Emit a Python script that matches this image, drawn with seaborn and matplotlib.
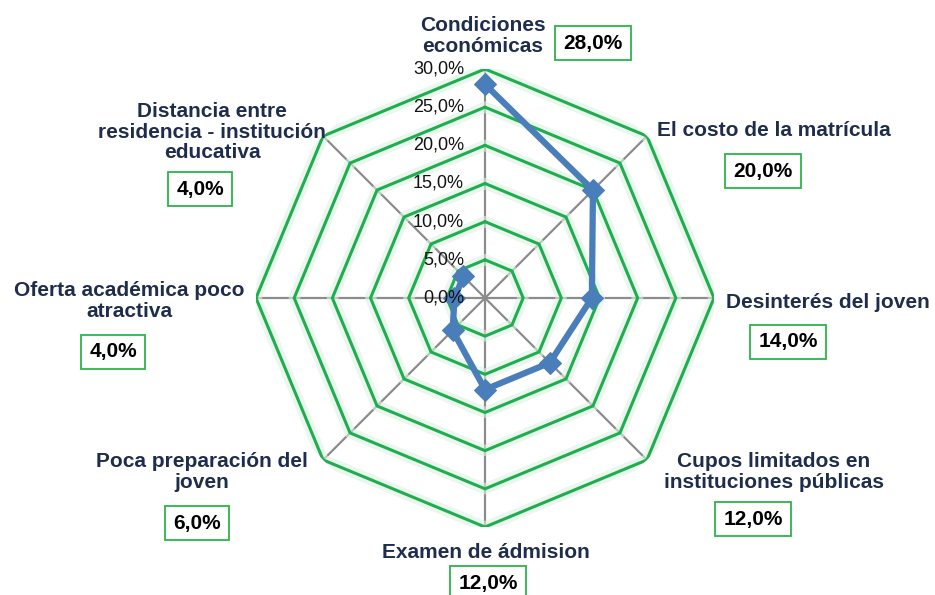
import numpy as np
import pandas as pd
import matplotlib
matplotlib.use("Agg")
import matplotlib.pyplot as plt
import matplotlib.patheffects as pe
import seaborn as sns

categories = ["Condiciones\neconómicas", "El costo de la matrícula", "Desinterés del joven",
              "Cupos limitados en\ninstituciones públicas", "Examen de ádmision",
              "Poca preparación del\njoven", "Oferta académica poco\natractiva",
              "Distancia entre\nresidencia - institución\neducativa"]
values = [28.0, 20.0, 14.0, 12.0, 12.0, 6.0, 4.0, 4.0]
value_labels = ["28,0%", "20,0%", "14,0%", "12,0%", "12,0%", "6,0%", "4,0%", "4,0%"]
ring_levels = [5, 10, 15, 20, 25, 30]
tick_levels = [0, 5, 10, 15, 20, 25, 30]
tick_labels = ["0,0%", "5,0%", "10,0%", "15,0%", "20,0%", "25,0%", "30,0%"]

# label anchor positions in pixels (text center, box center)
label_px = [(483, 36), (774, 131), (828, 302), (774, 472), (486, 553), (202, 472), (129, 301), (212, 132)]
box_px = [(593, 43), (763, 171), (788, 342), (753, 519), (488, 583), (197, 523), (113, 352), (200, 189)]

sns.set_theme(style="white")
plt.rcParams['font.family'] = ['Liberation Sans', 'DejaVu Sans']

W, H = 935, 595
fig = plt.figure(figsize=(W / 100, H / 100), dpi=100)
cx, cy, R = 485, 298, 229
ax = fig.add_axes([(cx - R) / W, 1 - (cy + R) / H, 2 * R / W, 2 * R / H], projection="polar")
ax.set_theta_zero_location("N")
ax.set_theta_direction(-1)
ax.set_ylim(0, 30)
ax.grid(False)
ax.spines["polar"].set_visible(False)
ax.set_xticks([])
ax.set_yticks([])
ax.patch.set_alpha(0)

n = len(categories)
angles = np.linspace(0, 2 * np.pi, n, endpoint=False)
green = "#1DAF4E"

# spokes
for a in angles:
    ax.plot([a, a], [0, 30], color="#8C8C8C", lw=1.6, zorder=1)
# octagon rings
ang_closed = np.append(angles, angles[0])
for lv in ring_levels:
    ax.plot(ang_closed, [lv] * (n + 1), color=green, lw=2.2, zorder=2,
            path_effects=[pe.Stroke(linewidth=8, foreground="#DDF1E3", alpha=0.6), pe.Normal()])

# data series
df = pd.DataFrame({"theta": np.append(angles, angles[0]), "r": values + [values[0]]})
sns.lineplot(data=df, x="theta", y="r", sort=False, ax=ax, color="#4A7EBB", lw=4.5,
             marker="D", markersize=11, markeredgecolor="#4A7EBB", zorder=5)
ax.set_xlabel("")
ax.set_ylabel("")

# radial tick labels
for lv, tl in zip(tick_levels, tick_labels):
    y_px = cy - lv / 30 * R
    fig.text(464 / W, 1 - y_px / H, tl, ha="right", va="center", fontsize=13, color="#111111")

navy = "#1F2D4D"
for cat, (lx, ly), vl, (bx, by) in zip(categories, label_px, value_labels, box_px):
    fig.text(lx / W, 1 - ly / H, cat, ha="center", va="center", fontsize=15, fontweight="bold",
             color=navy, linespacing=1.13)
    fig.text(bx / W, 1 - by / H, vl, ha="center", va="center", fontsize=15, fontweight="bold",
             color="black",
             bbox=dict(boxstyle="square,pad=0.38", facecolor="white", edgecolor="#2DB34A", lw=1.3))

fig.savefig("out.png", dpi=100)
